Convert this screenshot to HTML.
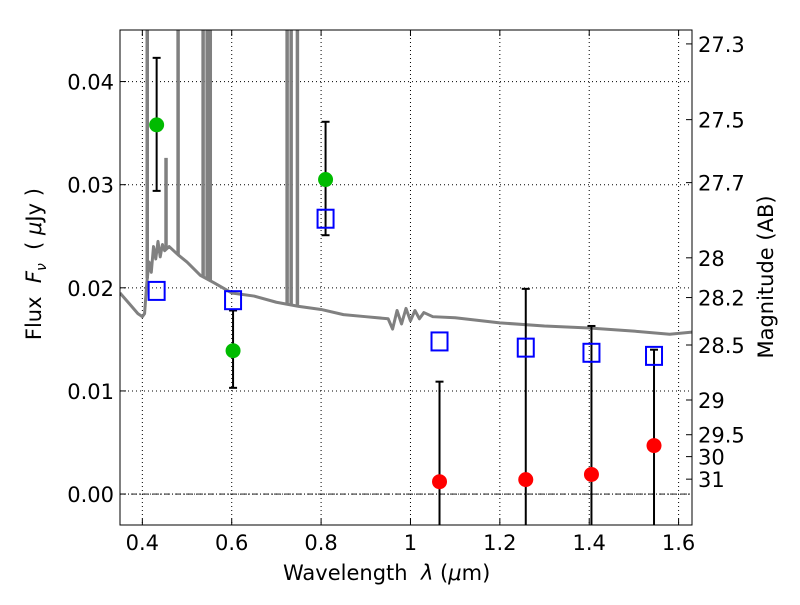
<!DOCTYPE html>
<html><head><meta charset="utf-8"><style>
body{margin:0;background:#fff;font-family:"Liberation Sans","DejaVu Sans",sans-serif}
svg text{font-family:"DejaVu Sans","Liberation Sans",sans-serif}
</style></head><body>
<svg id="c" width="800" height="600" xmlns="http://www.w3.org/2000/svg"></svg>
<script>
const specWave=[0.35,0.37,0.39,0.40,0.405,0.41,0.415,0.42,0.425,0.43,0.435,0.44,0.445,0.45,0.46,0.48,0.50,0.53,0.56,0.60,0.65,0.70,0.75,0.80,0.85,0.90,0.95,0.96,0.97,0.98,0.99,1.0,1.01,1.02,1.03,1.05,1.1,1.2,1.3,1.4,1.5,1.58,1.63];
const specFlux=[0.0195,0.0185,0.0175,0.0172,0.0175,0.0205,0.0225,0.0215,0.0240,0.0228,0.0245,0.0230,0.0242,0.0236,0.0240,0.0232,0.0225,0.0212,0.0205,0.0195,0.0192,0.0186,0.0182,0.0179,0.0174,0.0172,0.0170,0.0160,0.0178,0.0165,0.0180,0.0168,0.0178,0.0170,0.0176,0.0172,0.0171,0.0166,0.0163,0.0161,0.0158,0.0155,0.0157];
const lineWave=[0.411,0.453,0.480,0.536,0.545,0.552,0.724,0.733,0.747];
const lineFlux=[0.06,0.0326,0.06,0.06,0.06,0.06,0.06,0.06,0.06];
const grnWave=[0.432,0.603,0.81];
const grnFlux=[0.0358,0.0139,0.0305];
const grnLo=[0.0294,0.0103,0.0251];
const grnHi=[0.0423,0.0178,0.0361];
const bluWave=[0.432,0.603,0.81,1.065,1.258,1.405,1.545];
const bluFlux=[0.0197,0.0188,0.0267,0.0148,0.0142,0.0137,0.0134];
const redWave=[1.065,1.258,1.405,1.545];
const redFlux=[0.0012,0.0014,0.0019,0.0047];
const redLo=[-0.01,-0.01,-0.01,-0.01];
const redHi=[0.0109,0.0199,0.0163,0.0140];
const xTicks=[0.4,0.6,0.8,1.0,1.2,1.4,1.6];
const xTickLabels=["0.4","0.6","0.8","1","1.2","1.4","1.6"];
const yTicks=[0,0.01,0.02,0.03,0.04];
const yTickLabels=["0.00","0.01","0.02","0.03","0.04"];
const magTicks=[27.3,27.5,27.7,28,28.2,28.5,29,29.5,30,31];

const L=120,R=692,T=30,B=525,X0=0.35,X1=1.63,Y0=-0.003,Y1=0.045;
const sx=v=>L+(v-X0)/(X1-X0)*(R-L);
const sy=v=>B-(v-Y0)/(Y1-Y0)*(B-T);
const svg=document.getElementById('c');const NS='http://www.w3.org/2000/svg';
function el(t,a,p){const e=document.createElementNS(NS,t);for(const k in a)e.setAttribute(k,a[k]);(p||svg).appendChild(e);return e;}
const defs=el('defs',{});const cp=el('clipPath',{id:'cp'},defs);el('rect',{x:L,y:T,width:R-L,height:B-T},cp);
const g=el('g',{'clip-path':'url(#cp)'});


xTicks.forEach(v=>{const l=el('line',{x1:sx(v),x2:sx(v),y1:T,y2:B,stroke:'#000','stroke-dasharray':'1,3','stroke-width':1},g);

});
yTicks.forEach(v=>{const l=el('line',{x1:L,x2:R,y1:sy(v),y2:sy(v),stroke:'#000','stroke-dasharray':'1,3','stroke-width':1},g);

});
const z=el('line',{x1:L,x2:R,y1:sy(0),y2:sy(0),stroke:'#000','stroke-dasharray':'6,2,1,2','stroke-width':0.8},g);


const sp=el('polyline',{points:specWave.map((w,i)=>sx(w)+','+sy(specFlux[i])).join(' '),fill:'none',stroke:'#808080','stroke-width':3,'stroke-linejoin':'round'},g);


function interp(w){for(let i=0;i<specWave.length-1;i++)if(w>=specWave[i]&&w<=specWave[i+1]){const t=(w-specWave[i])/(specWave[i+1]-specWave[i]);return specFlux[i]+t*(specFlux[i+1]-specFlux[i]);}return specFlux[0];}
lineWave.forEach((w,i)=>{const l=el('line',{x1:sx(w),x2:sx(w),y1:sy(interp(w)),y2:sy(lineFlux[i]),stroke:'#808080','stroke-width':3.5},g);

});
function err(w,lo,hi,name){const x=sx(w);
const a=el('line',{x1:x,x2:x,y1:sy(lo),y2:sy(hi),stroke:'#000','stroke-width':2},g);


[lo,hi].forEach(v=>{if(v>Y0)el('line',{x1:x-4,x2:x+4,y1:sy(v),y2:sy(v),stroke:'#000','stroke-width':2},g);});}
grnWave.forEach((w,i)=>err(w,grnLo[i],grnHi[i],'green-error-bar'));
redWave.forEach((w,i)=>err(w,redLo[i],redHi[i],'red-error-bar'));
bluWave.forEach((w,i)=>{const r=el('rect',{x:sx(w)-8,y:sy(bluFlux[i])-9,width:16,height:18,fill:'none',stroke:'#0000ff','stroke-width':2},g);

});
grnWave.forEach((w,i)=>{const c=el('circle',{cx:sx(w),cy:sy(grnFlux[i]),r:7.5,fill:'#00bb00'},g);

});
redWave.forEach((w,i)=>{const c=el('circle',{cx:sx(w),cy:sy(redFlux[i]),r:7.5,fill:'#ff0000'},g);

});
const fr=el('rect',{x:L,y:T,width:R-L,height:B-T,fill:'none',stroke:'#000','stroke-width':1});


xTicks.forEach((v,i)=>{el('line',{x1:sx(v),x2:sx(v),y1:B,y2:B-6,stroke:'#000'});el('line',{x1:sx(v),x2:sx(v),y1:T,y2:T+6,stroke:'#000'});
const t=el('text',{x:sx(v),y:B+25,'text-anchor':'middle','font-size':21});t.textContent=xTickLabels[i];

});
yTicks.forEach((v,i)=>{el('line',{x1:L,x2:L+6,y1:sy(v),y2:sy(v),stroke:'#000'});
const t=el('text',{x:L-6,y:sy(v)+8,'text-anchor':'end','font-size':21});t.textContent=yTickLabels[i];

});
magTicks.forEach(m=>{const y=sy(Math.pow(10,(23.9-m)/2.5));el('line',{x1:R,x2:R-6,y1:y,y2:y,stroke:'#000'});
const t=el('text',{x:R+6,y:y+8,'font-size':21});t.textContent=String(m);

});
</script>
<div style="position:absolute;left:0;top:0;width:800px;height:600px;pointer-events:none">
<div style="position:absolute;left:283px;top:561px;font-size:21px;font-family:'DejaVu Sans',sans-serif">Wavelength&nbsp; <i>λ</i> (<i>μ</i>m)</div>
<div style="position:absolute;left:-64px;top:250px;width:200px;text-align:center;transform:rotate(-90deg);font-size:21px;font-family:'DejaVu Sans',sans-serif">Flux&nbsp; <i>F<sub style="font-size:14px">ν</sub></i>&nbsp; ( <i>μ</i>Jy )</div>
<div style="position:absolute;left:666px;top:265px;width:200px;text-align:center;transform:rotate(-90deg);font-size:21px;font-family:'DejaVu Sans',sans-serif">Magnitude (AB)</div>
</div>
</body></html>
